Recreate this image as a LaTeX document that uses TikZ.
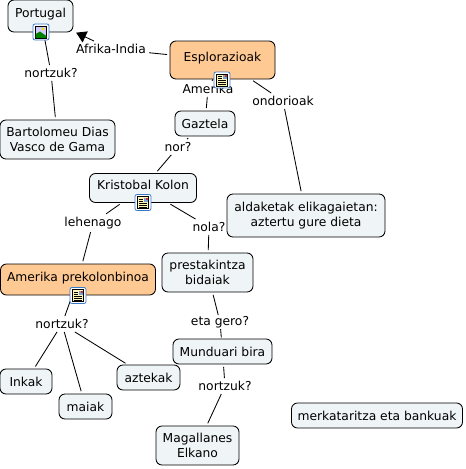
\documentclass[tikz,border=0pt]{standalone}
\usepackage{fontspec}
\setmainfont{DejaVu Sans}
\usetikzlibrary{arrows.meta}
\definecolor{boxfill}{HTML}{EFF4F6}
\definecolor{orangefill}{HTML}{FFC993}
\definecolor{iconblue}{HTML}{3C78C8}
\definecolor{paper}{HTML}{FFF6B4}
\tikzset{
  base/.style={draw=black,line width=0.85pt,rounded corners=6pt,align=center,inner sep=0pt,font=\fontsize{12.3}{14.6}\selectfont},
  cbox/.style={base,fill=boxfill},
  obox/.style={base,fill=orangefill},
  withicon/.style={text depth=6pt},
  lab/.style={font=\fontsize{12.3}{14}\selectfont,inner sep=3pt,fill=white,text=black},
  conn/.style={draw=black,line width=0.85pt},
  gapA/.style={shorten <=2.5pt},
  gapB/.style={shorten >=2.5pt},
}
\newcommand\iconframe[2]{%
  \fill[white,draw=iconblue,line width=0.8pt,rounded corners=2pt] (#1-8,#2-8) rectangle (#1+8,#2+8);}
\newcommand\docicon[2]{%
  \iconframe{#1}{#2}
  \fill[paper,draw=black,line width=0.4pt] (#1-5.5,#2-6) rectangle (#1+5.5,#2+6);
  \foreach \yy in {-3.5,-1.5,0.5,2.5,4.5}{\draw[black,line width=0.5pt] (#1-4,#2+\yy) -- (#1+\ifdim\yy pt<0pt 0\else 4\fi,#2+\yy);}
  \fill[iconblue!70] (#1+0.8,#2-5) rectangle (#1+4.8,#2-1);
  \fill[red!60!gray] (#1+2.6,#2-5) rectangle (#1+4.8,#2-3);}
\newcommand\picicon[2]{%
  \iconframe{#1}{#2}
  \fill[white!80!blue,draw=black,line width=0.4pt] (#1-5.5,#2-6) rectangle (#1+5.5,#2+6);
  \fill[yellow!80!orange] (#1+2,#2-3) circle (1.6);
  \fill[green!50!black] (#1-5.3,#2+5.8) -- (#1-5.3,#2+2) -- (#1-1,#2-0.5) -- (#1+5.3,#2+4) -- (#1+5.3,#2+5.8) -- cycle;}
\begin{document}
\begin{tikzpicture}[x=1pt,y=-1pt]
\useasboundingbox (0,0) rectangle (466,469);
% labels
\node[lab] (lAfrika) at (111,49) {Afrika-India};
\node[lab] (lPort) at (51,73) {nortzuk?};
\node[lab] (lAmerika) at (208,89) {Amerika};
\node[lab] (lOndo) at (283,101) {ondorioak};
\node[lab] (lNor) at (178,147) {nor?};
\node[lab] (lLeh) at (93,223) {lehenago};
\node[lab] (lNola) at (209,227) {nola?};
\node[lab,inner sep=1pt] (lGero) at (220,322) {eta gero?};
\node[lab] (lPre) at (62,324) {nortzuk?};
\node[lab] (lMag) at (225,386) {nortzuk?};
% concepts
\node[cbox,withicon,minimum width=65pt,minimum height=32pt] (portugal) at (40.5,16) {Portugal};
\node[obox,withicon,minimum width=105pt,minimum height=38pt] (espl) at (222.5,60) {Esplorazioak};
\node[cbox,minimum width=60pt,minimum height=25pt] (gaztela) at (205,123.5) {Gaztela};
\node[cbox,minimum width=115pt,minimum height=39pt] (bart) at (57.5,139.5) {Bartolomeu Dias\\Vasco de Gama};
\node[cbox,withicon,minimum width=107pt,minimum height=29pt] (kolon) at (143,188) {Kristobal Kolon};
\node[cbox,minimum width=158pt,minimum height=43pt] (aldak) at (306,215.5) {aldaketak elikagaietan:\\aztertu gure dieta};
\node[obox,withicon,minimum width=155pt,minimum height=31pt] (prekol) at (78,279.5) {Amerika prekolonbinoa};
\node[cbox,minimum width=91pt,minimum height=39pt] (prest) at (207.5,272.5) {prestakintza\\bidaiak};
\node[cbox,minimum width=99pt,minimum height=25pt] (mund) at (222.5,351.5) {Munduari bira};
\node[cbox,minimum width=52pt,minimum height=25pt] (inkak) at (26,381.5) {Inkak};
\node[cbox,minimum width=53pt,minimum height=25pt] (maiak) at (85.5,406.5) {maiak};
\node[cbox,minimum width=63pt,minimum height=25pt] (azte) at (148.5,377.5) {aztekak};
\node[cbox,minimum width=83pt,minimum height=39pt] (magal) at (197.5,445.5) {Magallanes\\Elkano};
\node[cbox,minimum width=171pt,minimum height=25pt] (merk) at (377,415.5) {merkataritza eta bankuak};
% connectors
\draw[conn] (portugal) -- (lPort);
\draw[conn,gapB] (lPort) -- (bart);
\draw[conn,gapA] (espl) -- (lAfrika);
\draw[conn,shorten >=3pt,-{Triangle[length=10pt,width=12pt]}] (lAfrika) -- (portugal);
\draw[conn] (espl) -- (lAmerika);
\draw[conn,gapB] (lAmerika) -- (gaztela);
\draw[conn,gapA] (espl) -- (lOndo);
\draw[conn,gapB] (lOndo) -- (aldak);
\draw[conn,gapA] (gaztela) -- (lNor);
\draw[conn,gapB] (lNor) -- (kolon);
\draw[conn,gapA] (kolon) -- (lLeh);
\draw[conn,gapB] (lLeh) -- (prekol);
\draw[conn,gapA] (kolon) -- (lNola);
\draw[conn,gapB] (lNola) -- (prest);
\draw[conn,gapA] (prest) -- (lGero);
\draw[conn,shorten >=1pt] (lGero) -- (mund);
\draw[conn] (prekol) -- (lPre);
\draw[conn,gapB] (lPre) -- (inkak);
\draw[conn,gapB] (lPre) -- (maiak);
\draw[conn,gapB] (lPre) -- (azte);
\draw[conn,gapA] (mund) -- (lMag);
\draw[conn,gapB] (lMag) -- (magal);
% icons
\picicon{41}{32}
\docicon{222}{80}
\docicon{143}{202.5}
\docicon{78}{295.5}
\end{tikzpicture}
\end{document}
